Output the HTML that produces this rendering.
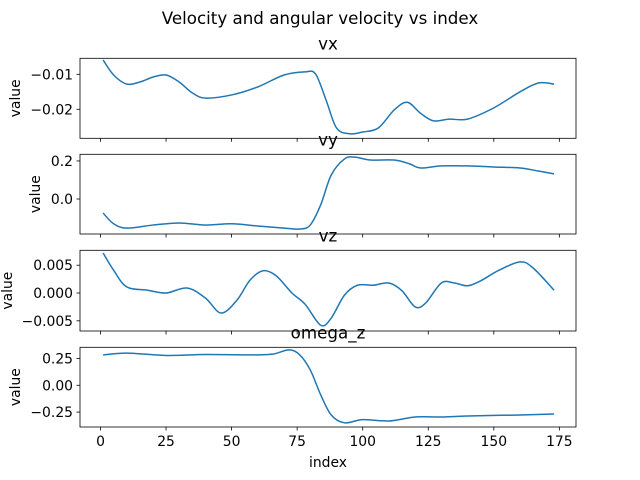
<!DOCTYPE html>
<html><head><meta charset="utf-8"><style>
body{margin:0;background:#fff}
svg{display:block;font-family:"DejaVu Sans","Liberation Sans",sans-serif}
</style></head><body>
<svg id="fig" width="640" height="480" xmlns="http://www.w3.org/2000/svg">
<text x="320" y="24" font-size="16.7" text-anchor="middle" fill="#000">Velocity and angular velocity vs index</text>
<text x="328" y="467" font-size="13.9" text-anchor="middle" fill="#000">index</text>
</svg>
<script>
const vxIdx=[1,5,10,15,20,25,30,35,40,50,60,70,78,82,86,90,95,100,106,112,117,122,127,133,140,150,160,167,173];
const vxVals=[-0.0059,-0.0102,-0.0128,-0.0122,-0.0108,-0.0102,-0.0122,-0.0153,-0.0168,-0.0159,-0.0136,-0.0102,-0.0093,-0.0099,-0.0173,-0.0253,-0.027,-0.0265,-0.0253,-0.0202,-0.018,-0.0211,-0.0233,-0.0228,-0.0228,-0.0196,-0.015,-0.0125,-0.0128];
const vyIdx=[1,5,10,20,30,40,50,60,70,76,80,84,88,93,97,103,112,118,122,130,140,150,160,167,173];
const vyVals=[-0.074,-0.13,-0.153,-0.137,-0.126,-0.137,-0.13,-0.142,-0.153,-0.158,-0.137,-0.03,0.126,0.21,0.22,0.205,0.205,0.184,0.163,0.174,0.174,0.168,0.163,0.147,0.132];
const vzIdx=[1,5,10,18,25,33,40,46,52,57,62,67,73,78,84,88,93,98,104,110,115,120,124,130,135,140,145,152,160,165,173];
const vzVals=[0.0072,0.0041,0.0011,0.0005,0,0.0009,-0.0009,-0.0036,-0.0013,0.0023,0.004,0.0031,0,-0.002,-0.0058,-0.0045,-0.0004,0.0014,0.0014,0.0018,0.0004,-0.0025,-0.0018,0.0018,0.0018,0.0013,0.0022,0.0041,0.0056,0.0045,0.0005];
const omIdx=[1,10,25,40,60,66,72,76,80,84,88,93,100,110,120,130,140,160,173];
const omVals=[0.283,0.30,0.278,0.287,0.283,0.292,0.33,0.283,0.143,-0.09,-0.277,-0.35,-0.32,-0.333,-0.296,-0.296,-0.286,-0.277,-0.268];
const xTicks=[0,25,50,75,100,125,150,175];
const vxTicks=[-0.01,-0.02], vxTickLabels=["\u22120.01","\u22120.02"];
const vyTicks=[0.2,0.0], vyTickLabels=["0.2","0.0"];
const vzTicks=[0.005,0,-0.005], vzTickLabels=["0.005","0.000","\u22120.005"];
const omTicks=[0.25,0,-0.25], omTickLabels=["0.25","0.00","\u22120.25"];

const NS="http://www.w3.org/2000/svg";
const svg=document.getElementById('fig');
const L=80,R=576;
function xs(v){return 100.5+2.622*v;}
function mk(tag,attrs,parent){const e=document.createElementNS(NS,tag);for(const k in attrs)e.setAttribute(k,attrs[k]);(parent||svg).appendChild(e);return e;}
function smooth(pts){let d="M"+pts[0][0].toFixed(2)+","+pts[0][1].toFixed(2);
 for(let i=0;i<pts.length-1;i++){const p0=pts[Math.max(0,i-1)],p1=pts[i],p2=pts[i+1],p3=pts[Math.min(pts.length-1,i+2)];
 const c1=[p1[0]+(p2[0]-p0[0])/6,p1[1]+(p2[1]-p0[1])/6],c2=[p2[0]-(p3[0]-p1[0])/6,p2[1]-(p3[1]-p1[1])/6];
 d+=" C"+c1[0].toFixed(2)+","+c1[1].toFixed(2)+" "+c2[0].toFixed(2)+","+c2[1].toFixed(2)+" "+p2[0].toFixed(2)+","+p2[1].toFixed(2);}
 return d;}
const panels=[
 {name:'vx',top:58.3,bot:138.3,vTop:-0.00543,vBot:-0.02829,idx:vxIdx,vals:vxVals,ticks:vxTicks,labels:vxTickLabels,ylx:20},
 {name:'vy',top:154.3,bot:234,vTop:0.235,vBot:-0.184,idx:vyIdx,vals:vyVals,ticks:vyTicks,labels:vyTickLabels,ylx:40},
 {name:'vz',top:250.3,bot:331,vTop:0.00768,vBot:-0.00683,idx:vzIdx,vals:vzVals,ticks:vzTicks,labels:vzTickLabels,ylx:12},
 {name:'omega_z',top:347.3,bot:427,vTop:0.354,vBot:-0.389,idx:omIdx,vals:omVals,ticks:omTicks,labels:omTickLabels,ylx:20}
];
panels.forEach((p,pi)=>{
 const g=mk('g',{});
 
 
 const ys=v=>p.top+(p.vTop-v)/(p.vTop-p.vBot)*(p.bot-p.top);
 const pts=p.idx.map((x,i)=>[xs(x),ys(p.vals[i])]);
 const line=mk('path',{d:smooth(pts),fill:'none',stroke:'#1f77b4','stroke-width':1.5},g);
 
 
 const fr=mk('rect',{x:L,y:p.top,width:R-L,height:p.bot-p.top,fill:'none',stroke:'#000','stroke-width':0.8},g);
 
 
 p.ticks.forEach((t,i)=>{const y=ys(t);
  mk('line',{x1:L-3.5,x2:L,y1:y,y2:y,stroke:'#000','stroke-width':0.8},g);
  const tl=mk('text',{x:L-7,y:y+5,'font-size':13.9,'text-anchor':'end',fill:'#000'},g);
  tl.textContent=p.labels[i];
  
  });
 xTicks.forEach(t=>{const x=xs(t);
  mk('line',{x1:x,x2:x,y1:p.bot,y2:p.bot+3.5,stroke:'#000','stroke-width':0.8},g);
  if(pi===3){const tl=mk('text',{x:x,y:p.bot+19,'font-size':13.9,'text-anchor':'middle',fill:'#000'},g);
   tl.textContent=String(t);
   
   }});
 const tt=mk('text',{x:(L+R)/2,y:p.top-9,'font-size':16.7,'text-anchor':'middle',fill:'#000'},g);
 tt.textContent=p.name;
 
 
 const cy=(p.top+p.bot)/2;
 const yl=mk('text',{x:p.ylx,y:cy,'font-size':13.9,'text-anchor':'middle',fill:'#000',transform:'rotate(-90 '+p.ylx+' '+cy+')'},g);
 yl.textContent='value';
 
 
});
</script>
</body></html>
